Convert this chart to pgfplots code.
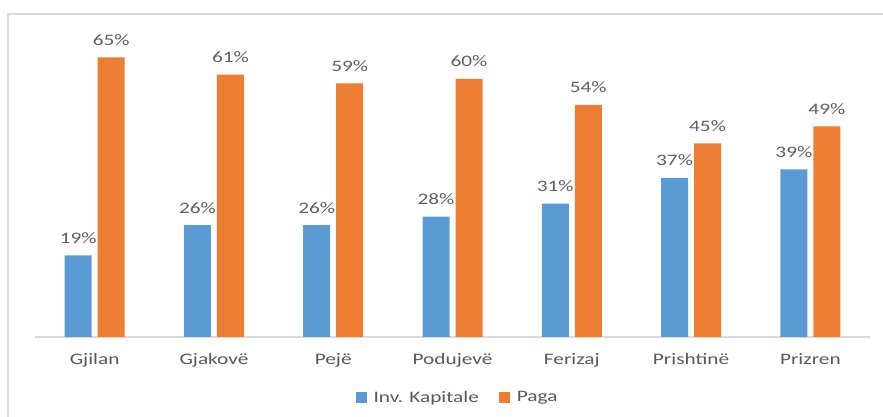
\documentclass[border=0pt]{standalone}
\usepackage{fontspec}
\setmainfont{Carlito}[FakeStretch=1.33]
\usepackage{pgfplots}
\pgfplotsset{compat=1.18}
\definecolor{cblue}{HTML}{5B9BD5}
\definecolor{corange}{HTML}{ED7D31}
\definecolor{cgrid}{HTML}{D9D9D9}
\definecolor{ctext}{HTML}{595959}
\definecolor{clabel}{HTML}{5F5F5F}
\begin{document}
\begin{tikzpicture}[x=1pt,y=1pt]
\useasboundingbox (0,0) rectangle (883,417);
\draw[cgrid, line width=1.2pt] (8,0) -- (8,403) -- (883,403);
\begin{axis}[
  at={(35pt,80pt)}, anchor=south west,
  scale only axis, width=835pt, height=301pt,
  xmin=-0.5, xmax=6.5, ymin=0, ymax=70,
  ybar=6pt, bar width=27pt,
  axis x line*=bottom, axis y line=none,
  x axis line style={cgrid, line width=1.5pt, -},
  major tick length=0pt,
  xtick=data,
  xticklabels={Gjilan,Gjakovë,Pejë,Podujevë,Ferizaj,Prishtinë,Prizren},
  xticklabel style={anchor=base, yshift=-28pt, font=\fontsize{16}{19}\selectfont, text=ctext},
  /pgf/number format/assume math mode=true,
  nodes near coords={\pgfmathprintnumber{\pgfplotspointmeta}\%},
  every node near coord/.append style={anchor=base, yshift=12pt, font=\fontsize{16}{19}\selectfont, text=clabel},
  legend style={at={(0.506,-0.2)}, anchor=center, draw=none, fill=none,
    font=\fontsize{16}{19}\selectfont, text=ctext, legend columns=-1,
    /tikz/every even column/.append style={column sep=18pt}},
  legend image code/.code={\fill[#1] (0pt,-5.5pt) rectangle (11pt,5.5pt); \path (0pt,0pt) -- (16pt,0pt);},
]
\addplot[fill=cblue, draw=none] coordinates {(0,19) (1,26) (2,26) (3,28) (4,31) (5,37) (6,39)};
\addplot[fill=corange, draw=none] coordinates {(0,65) (1,61) (2,59) (3,60) (4,54) (5,45) (6,49)};
\legend{Inv. Kapitale, Paga}
\end{axis}
\end{tikzpicture}
\end{document}
